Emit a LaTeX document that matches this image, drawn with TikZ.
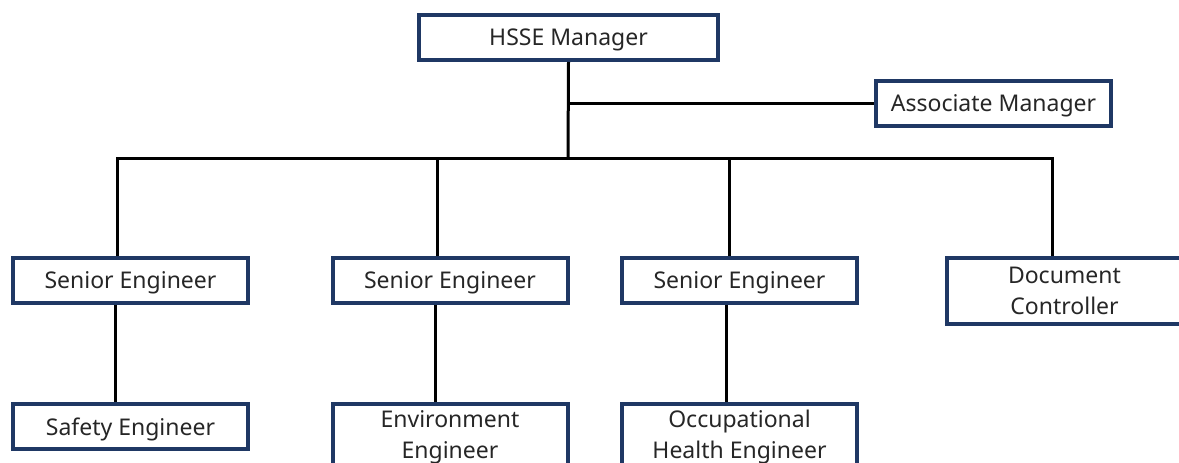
\documentclass[tikz,border=0pt]{standalone}
\usepackage{fontspec}
\setmainfont{Noto Sans}
\usepackage{tikz}
\usetikzlibrary{calc}
\definecolor{marine}{RGB}{31,56,100}
\tikzstyle{poste} = [rectangle, draw=marine, line width=4pt, minimum width=235pt, minimum height=45pt, inner sep=0pt, text depth=0pt, text=black!85, align=center, font=\fontsize{23}{31}\selectfont]
\tikzstyle{poste2} = [rectangle, draw=marine, line width=4pt, minimum width=235pt, minimum height=66pt, inner sep=0pt, text=black!85, align=center, font=\fontsize{23}{31}\selectfont]
\tikzstyle{lien} = [draw=black, line width=3pt]

\begin{document}
\begin{tikzpicture}[x=1pt, y=-1pt]

        \useasboundingbox (0,0) rectangle (1179,463);

        \node (hsse)  [poste, minimum width=299pt] at (568.5,37.5) {HSSE Manager};
        \node (assoc) [poste] at (993.5,103) {Associate Manager};

        \node (senior1) [poste] at (130.5,280.5) {Senior Engineer};
        \node (senior2) [poste] at (450,280.5) {Senior Engineer};
        \node (senior3) [poste] at (739.5,280.5) {Senior Engineer};
        \node (docctrl) [poste2] at (1064.5,291) {Document\\Controller};

        \node (safety) [poste] at (130.5,426.5) {Safety Engineer};
        \node (enviro) [poste2] at (450,437) {Environment\\Engineer};
        \node (occup)  [poste2] at (739.5,437) {Occupational\\Health Engineer};

        \coordinate (branch) at (568,103);
        \coordinate (split)  at (568,158);

        \draw [lien] (hsse.south) -- (split);
        \draw [lien] (branch) -- (assoc.west);

        \draw [lien] ([xshift=-13.5pt]senior1.north) |- (split);
        \draw [lien] ([xshift=-13pt]senior2.north) |- (split);
        \draw [lien] ([xshift=-10.5pt]senior3.north) |- (split);
        \draw [lien] ([xshift=-12.5pt]docctrl.north) |- (split);

        \draw [lien] ([xshift=-15.5pt]senior1.south) -- ([xshift=-15.5pt]safety.north);
        \draw [lien] ([xshift=-15pt]senior2.south) -- ([xshift=-15pt]enviro.north);
        \draw [lien] ([xshift=-13.5pt]senior3.south) -- ([xshift=-13.5pt]occup.north);

    \end{tikzpicture}
\end{document}
